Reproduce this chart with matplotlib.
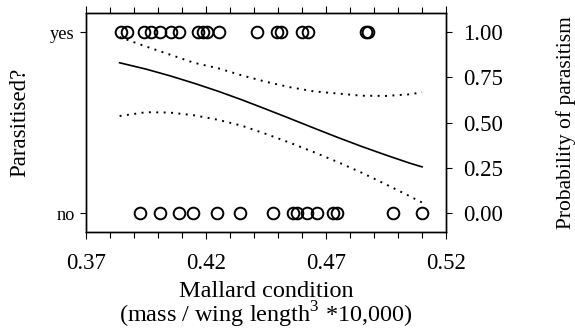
import matplotlib
matplotlib.use('Agg')
import matplotlib.pyplot as plt
from matplotlib.ticker import MultipleLocator
import numpy as np

plt.rcParams['font.family'] = ['Liberation Serif', 'DejaVu Serif']
plt.rcParams['mathtext.fontset'] = 'custom'
plt.rcParams['mathtext.rm'] = 'Liberation Serif'

# observed birds (0 = not parasitised, 1 = parasitised)
cond_yes = [0.3846, 0.3871, 0.3942, 0.3971, 0.4008, 0.4054, 0.4088, 0.4167,
            0.4188, 0.4204, 0.4254, 0.4413, 0.4496, 0.4513, 0.4600, 0.4625,
            0.4867, 0.4875]
cond_no = [0.3925, 0.4008, 0.4088, 0.4146, 0.4246, 0.4342, 0.4479, 0.4563,
           0.4579, 0.4621, 0.4663, 0.4729, 0.4746, 0.4979, 0.5100]

# fitted logistic curve with confidence band
fit_x = [0.384, 0.395, 0.405, 0.415, 0.425, 0.435, 0.445, 0.455, 0.465,
         0.475, 0.485, 0.495, 0.505, 0.510]
fit_p = [0.830, 0.795, 0.758, 0.717, 0.673, 0.625, 0.574, 0.522, 0.469,
         0.417, 0.367, 0.320, 0.275, 0.255]
upper = [0.972, 0.920, 0.875, 0.830, 0.800, 0.760, 0.725, 0.695, 0.672,
         0.660, 0.648, 0.647, 0.656, 0.667]
lower = [0.536, 0.557, 0.555, 0.540, 0.515, 0.482, 0.437, 0.388, 0.336,
         0.281, 0.222, 0.158, 0.092, 0.058]

xticks = [0.37, 0.42, 0.47, 0.52]
prob_ticks = [0.0, 0.25, 0.5, 0.75, 1.0]

fs = 16.5
fig = plt.figure(figsize=(5.75, 3.31), dpi=100)
ax = fig.add_axes([0.1496, 0.299, 0.6261, 0.6617])

ax.plot(cond_yes, np.ones(len(cond_yes)), 'o', mfc='none', mec='black', ms=8.4, mew=1.4)
ax.plot(cond_no, np.zeros(len(cond_no)), 'o', mfc='none', mec='black', ms=8.4, mew=1.4)
ax.plot(fit_x, fit_p, color='black', lw=1.2)
ax.plot(fit_x, upper, color='black', lw=1.4, linestyle=(0, (1, 2.8)))
ax.plot(fit_x, lower, color='black', lw=1.4, linestyle=(0, (1, 2.8)))

ax.set_xlim(0.37, 0.52)
ax.set_ylim(-0.105, 1.105)
ax.set_xticks(xticks)
ax.set_xticklabels(['%.2f' % t for t in xticks], fontsize=fs)
ax.xaxis.set_minor_locator(MultipleLocator(0.01))
ax.tick_params(axis='x', which='both', top=True, direction='out', length=4, width=0.8)
ax.tick_params(axis='x', which='major', length=5, pad=10)
ax.set_yticks([0, 1])
ax.set_yticklabels(['no', 'yes'], fontsize=fs * 0.8)
ax.tick_params(axis='y', direction='out', length=4, width=0.8, pad=4)
ax.set_ylabel('Parasitised?', fontsize=fs)
ax.yaxis.set_label_coords(-0.155, 0.5)

# two-line x label, placed by hand in axes fraction
ax.text(0.5, -0.297, 'Mallard condition', transform=ax.transAxes,
        ha='center', va='baseline', fontsize=17.5)
ax.text(0.5, -0.415, '(mass / wing length$^{\\mathregular{3}}$ *10,000)',
        transform=ax.transAxes, ha='center', va='baseline', fontsize=17.5)

ax2 = ax.twinx()
ax2.set_ylim(-0.105, 1.105)
ax2.set_yticks(prob_ticks)
ax2.set_yticklabels(['%.2f' % t for t in prob_ticks], fontsize=fs)
ax2.tick_params(axis='y', direction='out', length=4, width=0.8, pad=8)
ax2.set_ylabel('Probability of parasitism', fontsize=15.5)
ax2.yaxis.set_label_coords(1.305, 0.5)

for a in (ax, ax2):
    for s in a.spines.values():
        s.set_linewidth(1.0)

fig.savefig('out.png', dpi=100)
